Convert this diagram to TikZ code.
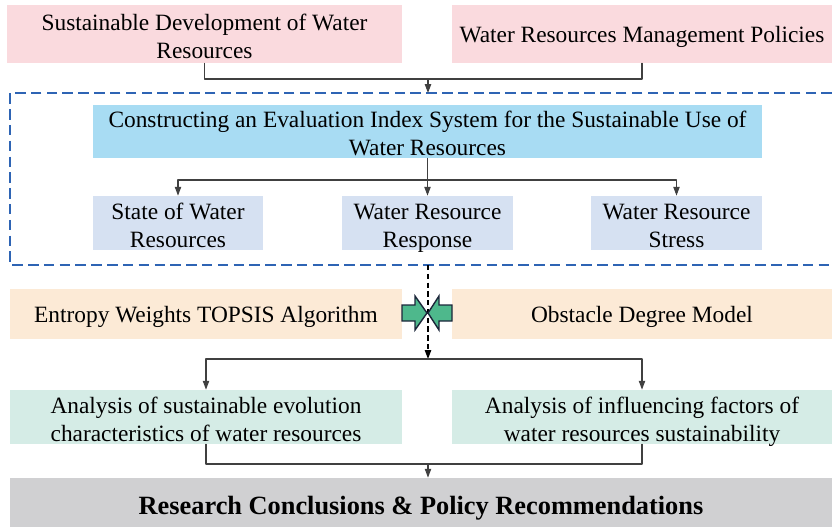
\documentclass[tikz,border=0pt]{standalone}
\usepackage{fontspec}
\setmainfont{Liberation Serif}
\usetikzlibrary{arrows.meta}

\definecolor{pinkbg}{RGB}{250,218,222}
\definecolor{skybg}{RGB}{168,220,243}
\definecolor{paleblue}{RGB}{214,225,242}
\definecolor{orangebg}{RGB}{252,234,214}
\definecolor{mintbg}{RGB}{213,236,230}
\definecolor{greybg}{RGB}{208,208,210}
\definecolor{framblue}{RGB}{46,100,180}
\definecolor{arrowgreen}{RGB}{78,184,140}
\definecolor{arrowedge}{RGB}{28,38,58}

\newcommand{\upx}{0.02cm}

\tikzset{
  box/.style 2 args={inner sep=0pt, align=center, font=\fontsize{13.3}{15.9}\selectfont,
    minimum width=#1*\upx, minimum height=#2*\upx, text height=27.5pt, text depth=0pt},
  oneline/.style={text height=10pt, text depth=0pt},
  link/.style={draw=black!75, line width=0.6pt},
  framed/.style={draw=framblue, line width=1.2pt, dash pattern=on 6pt off 3pt, line cap=butt},
  blockarrow/.style={fill=arrowgreen, draw=arrowedge, line width=0.8pt, line join=miter}
}

\begin{document}
\begin{tikzpicture}[x=0.02cm,y=-0.02cm,line cap=round,line join=round,>={Triangle[length=5pt,width=3.6pt]}]
\useasboundingbox (0,0) rectangle (832,527);

% background and policy
\node[box={395}{58},fill=pinkbg] (sdw) at (204.5,34) {Sustainable Development of Water\\Resources};
\node[box={380}{58},fill=pinkbg,oneline] (wrm) at (642,34) {Water Resources Management Policies};
\coordinate (j1) at (428,79);
\draw[link] (sdw.south) |- (j1) -| (wrm.south);

% index system
\draw[framed] (832,93) -| (10,265) -- (832,265);
\coordinate (ftop) at (428,93);
\coordinate (fbot) at (428,265);
\draw[link,->] (j1) -- (ftop);

\node[box={669}{53},fill=skybg] (ceis) at (427.5,131.5) {Constructing an Evaluation Index System for the Sustainable Use of\\Water Resources};
\node[box={170}{54},fill=paleblue] (swr) at (178,223) {State of Water\\Resources};
\node[box={171}{54},fill=paleblue] (wrr) at (427.5,223) {Water Resource\\Response};
\node[box={171}{54},fill=paleblue] (wrs) at (676.5,223) {Water Resource\\Stress};
\coordinate (j2) at (427.5,180);
\draw[link] (ceis.south) -- (j2);
\draw[link,->] (j2) -| (swr.north);
\draw[link,->] (j2) -- (wrr.north);
\draw[link,->] (j2) -| (wrs.north);

% methods
\node[box={392}{50},fill=orangebg,oneline] (ewt) at (206,314) {Entropy Weights TOPSIS Algorithm};
\node[box={380}{50},fill=orangebg,oneline] (odm) at (642,314) {Obstacle Degree Model};
\coordinate (j3) at (428,359);
\draw[->,line width=0.7pt,dash pattern=on 3pt off 2pt,line cap=butt] (fbot) -- (j3);
\filldraw[blockarrow] (402,305) -- (415,305) -- (415,296) -- (427,313) -- (415,330) -- (415,321) -- (402,321) -- cycle;
\filldraw[blockarrow] (452,305) -- (439,305) -- (439,296) -- (428,313) -- (439,330) -- (439,321) -- (452,321) -- cycle;

% analysis
\node[box={392}{54},fill=mintbg] (ase) at (206,417) {Analysis of sustainable evolution\\characteristics of water resources};
\node[box={380}{54},fill=mintbg] (aif) at (642,417) {Analysis of influencing factors of\\water resources sustainability};
\draw[link,->] (j3) -| (ase.north);
\draw[link,->] (j3) -| (aif.north);

% conclusions
\node[box={822}{49},fill=greybg,font=\fontsize{15}{18}\selectfont\bfseries,text height=14pt] (rcp) at (421,502.5) {Research Conclusions \& Policy Recommendations};
\coordinate (j4) at (428,464);
\draw[link] (ase.south) |- (j4) -| (aif.south);
\draw[link,->] (j4) -- (j4 |- rcp.north);
\end{tikzpicture}
\end{document}
